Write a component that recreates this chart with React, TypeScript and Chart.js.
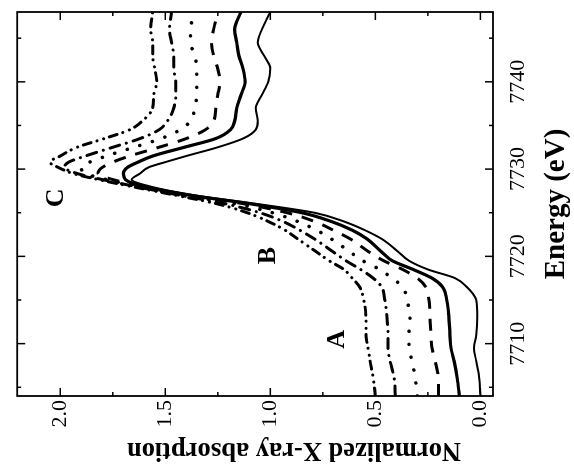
import React, { useEffect, useRef } from "react";
import { Chart, registerables } from "chart.js";

Chart.register(...registerables);

const SERIF = "'Liberation Serif', 'Times New Roman', serif";

// Energy grid (eV)
const energy = [
  7704, 7706, 7708, 7709.5, 7711, 7713, 7715, 7716.5, 7717.5, 7718.5, 7719.5, 7720.5,
  7722, 7723, 7724, 7725, 7726, 7727, 7728, 7728.8, 7729.5, 7730.2, 7730.8, 7731.5,
  7732.5, 7733.5, 7734.5, 7735.5, 7737, 7738.5, 7740, 7741.5, 7743, 7744.5, 7746, 7748,
];

// Normalized absorption, one array per spectrum (thin solid ... dash-dot-dot)
const thinSolid = [
  0.0, 0.005, 0.02, 0.03, 0.02, 0.015, 0.02, 0.065, 0.12, 0.25, 0.34, 0.39,
  0.47, 0.55, 0.65, 0.79, 1.06, 1.36, 1.57, 1.66, 1.62, 1.58, 1.5, 1.4,
  1.25, 1.13, 1.07, 1.06, 1.07, 1.04, 1.01, 1.0, 1.03, 1.06, 1.04, 1.0,
];
const thickSolid = [
  0.1, 0.11, 0.125, 0.14, 0.145, 0.15, 0.16, 0.18, 0.23, 0.32, 0.42, 0.47,
  0.54, 0.61, 0.71, 0.85, 1.09, 1.38, 1.6, 1.69, 1.7, 1.68, 1.63, 1.56,
  1.41, 1.26, 1.19, 1.17, 1.16, 1.14, 1.12, 1.13, 1.15, 1.16, 1.17, 1.14,
];
const dashed = [
  0.2, 0.2, 0.215, 0.23, 0.235, 0.24, 0.245, 0.26, 0.3, 0.37, 0.46, 0.53,
  0.62, 0.7, 0.79, 0.92, 1.12, 1.39, 1.6, 1.75, 1.82, 1.8, 1.75, 1.67,
  1.53, 1.4, 1.31, 1.27, 1.26, 1.25, 1.24, 1.25, 1.27, 1.28, 1.27, 1.25,
];
const dotted = [
  0.3, 0.31, 0.325, 0.34, 0.34, 0.335, 0.35, 0.37, 0.42, 0.48, 0.56, 0.62,
  0.71, 0.78, 0.87, 0.99, 1.16, 1.41, 1.62, 1.78, 1.88, 1.9, 1.86, 1.78,
  1.65, 1.52, 1.43, 1.38, 1.36, 1.35, 1.35, 1.35, 1.36, 1.38, 1.38, 1.36,
];
const dashDot = [
  0.405, 0.41, 0.43, 0.44, 0.44, 0.445, 0.455, 0.47, 0.51, 0.57, 0.64, 0.7,
  0.79, 0.86, 0.94, 1.05, 1.21, 1.43, 1.64, 1.8, 1.92, 1.98, 1.96, 1.88,
  1.75, 1.62, 1.53, 1.49, 1.46, 1.45, 1.45, 1.46, 1.46, 1.47, 1.48, 1.47,
];
const dashDotDot = [
  0.5, 0.51, 0.525, 0.535, 0.545, 0.545, 0.555, 0.575, 0.61, 0.65, 0.72, 0.78,
  0.87, 0.93, 1.01, 1.11, 1.25, 1.45, 1.66, 1.82, 1.94, 2.01, 2.05, 2.0,
  1.92, 1.79, 1.67, 1.61, 1.56, 1.555, 1.54, 1.55, 1.56, 1.56, 1.57, 1.56,
];

const energyTicks = [7710, 7720, 7730, 7740];
const energyMinor = [7705, 7715, 7725, 7735, 7745];
const absTicks = [0, 0.5, 1.0, 1.5, 2.0];
const absMinor = [0.25, 0.75, 1.25, 1.75];

const xTitle = "Energy (eV)";
const yTitle = "Normalized X-ray absorption";

const labels = [
  { text: "A", e: 7710.5, v: 0.68 },
  { text: "B", e: 7720.1, v: 1.01 },
  { text: "C", e: 7726.7, v: 2.02 },
];

const toPoints = (vals: number[]) => energy.map((e, i) => ({ x: e, y: vals[i] }));

const framePlugin = {
  id: "frameTicks",
  afterDraw(chart: any) {
    const { ctx, chartArea: a, scales } = chart;
    const x = scales.x;
    const y = scales.y;
    ctx.save();
    ctx.strokeStyle = "#000";
    ctx.lineWidth = 1.8;
    ctx.strokeRect(a.left, a.top, a.right - a.left, a.bottom - a.top);
    ctx.lineWidth = 1.5;
    const seg = (x1: number, y1: number, x2: number, y2: number) => {
      ctx.beginPath();
      ctx.moveTo(x1, y1);
      ctx.lineTo(x2, y2);
      ctx.stroke();
    };
    const xt = (vals: number[], len: number) => {
      for (const v of vals) {
        const p = x.getPixelForValue(v);
        seg(p, a.bottom, p, a.bottom - len);
        seg(p, a.top, p, a.top + len);
      }
    };
    const yt = (vals: number[], len: number) => {
      for (const v of vals) {
        const p = y.getPixelForValue(v);
        seg(a.left, p, a.left + len, p);
        seg(a.right, p, a.right - len, p);
      }
    };
    xt(energyTicks, 8);
    xt(energyMinor, 4);
    yt(absTicks, 8);
    yt(absMinor, 4);

    // peak labels
    ctx.fillStyle = "#000";
    ctx.font = `bold 26px ${SERIF}`;
    ctx.textAlign = "center";
    ctx.textBaseline = "middle";
    for (const l of labels) {
      ctx.fillText(l.text, x.getPixelForValue(l.e), y.getPixelForValue(l.v));
    }

    // y axis title
    ctx.save();
    ctx.translate(19, 294);
    ctx.rotate(-Math.PI / 2);
    ctx.font = `bold 26.5px ${SERIF}`;
    ctx.fillText(yTitle, 0, 0);
    ctx.restore();
    ctx.restore();
  },
};

export default function App() {
  const ref = useRef<HTMLCanvasElement>(null);
  useEffect(() => {
    const canvas = ref.current!;
    const base = {
      pointRadius: 0,
      borderColor: "#000",
      fill: false,
      cubicInterpolationMode: "monotone" as const,
    };
    const chart = new Chart(canvas, {
      type: "line",
      data: {
        datasets: [
          { ...base, label: "1", data: toPoints(thinSolid), borderWidth: 2 },
          { ...base, label: "2", data: toPoints(thickSolid), borderWidth: 3.2 },
          { ...base, label: "3", data: toPoints(dashed), borderWidth: 3, borderDash: [12, 10] },
          { ...base, label: "4", data: toPoints(dotted), borderWidth: 3.5, borderDash: [0.1, 13], borderCapStyle: "round" },
          { ...base, label: "5", data: toPoints(dashDot), borderWidth: 3, borderDash: [10, 7, 0.1, 7], borderCapStyle: "round" },
          { ...base, label: "6", data: toPoints(dashDotDot), borderWidth: 3, borderDash: [8, 6, 0.1, 7, 0.1, 6], borderCapStyle: "round" },
        ] as any,
      },
      options: {
        responsive: false,
        animation: false,
        devicePixelRatio: 1,
        layout: { padding: { top: 8, right: 12, left: 0, bottom: 0 } },
        plugins: { legend: { display: false }, tooltip: { enabled: false } },
        scales: {
          x: {
            type: "linear",
            min: 7704,
            max: 7748,
            position: "bottom",
            afterBuildTicks: (s: any) => {
              s.ticks = energyTicks.map((v) => ({ value: v }));
            },
            afterFit: (s: any) => {
              s.height = 81;
            },
            grid: { display: false, drawTicks: false },
            border: { display: false },
            ticks: {
              color: "#000",
              font: { family: SERIF, size: 22 },
              padding: 12,
              maxRotation: 0,
              autoSkip: false,
              callback: (v: any) => String(v),
            },
            title: {
              display: true,
              text: xTitle,
              color: "#000",
              font: { family: SERIF, size: 29, weight: "bold" },
              padding: { top: 0, bottom: 0 },
            },
          },
          y: {
            type: "linear",
            min: -0.06,
            max: 2.205,
            afterBuildTicks: (s: any) => {
              s.ticks = absTicks.map((v) => ({ value: v }));
            },
            afterFit: (s: any) => {
              s.width = 73;
            },
            grid: { display: false, drawTicks: false },
            border: { display: false },
            ticks: {
              color: "#000",
              font: { family: SERIF, size: 22 },
              padding: 4,
              callback: (v: any) => Number(v).toFixed(1),
            },
          },
        },
      } as any,
      plugins: [framePlugin],
    });
    return () => chart.destroy();
  }, []);

  return (
    <div
      style={{
        position: "fixed",
        left: 0,
        top: 0,
        width: 574,
        height: 469,
        overflow: "hidden",
        background: "#fff",
      }}
    >
      <canvas
        ref={ref}
        width={469}
        height={574}
        style={{
          position: "absolute",
          left: 0,
          top: 0,
          width: 469,
          height: 574,
          transformOrigin: "0 0",
          transform: "translate(0px, 469px) rotate(-90deg)",
        }}
      />
    </div>
  );
}
